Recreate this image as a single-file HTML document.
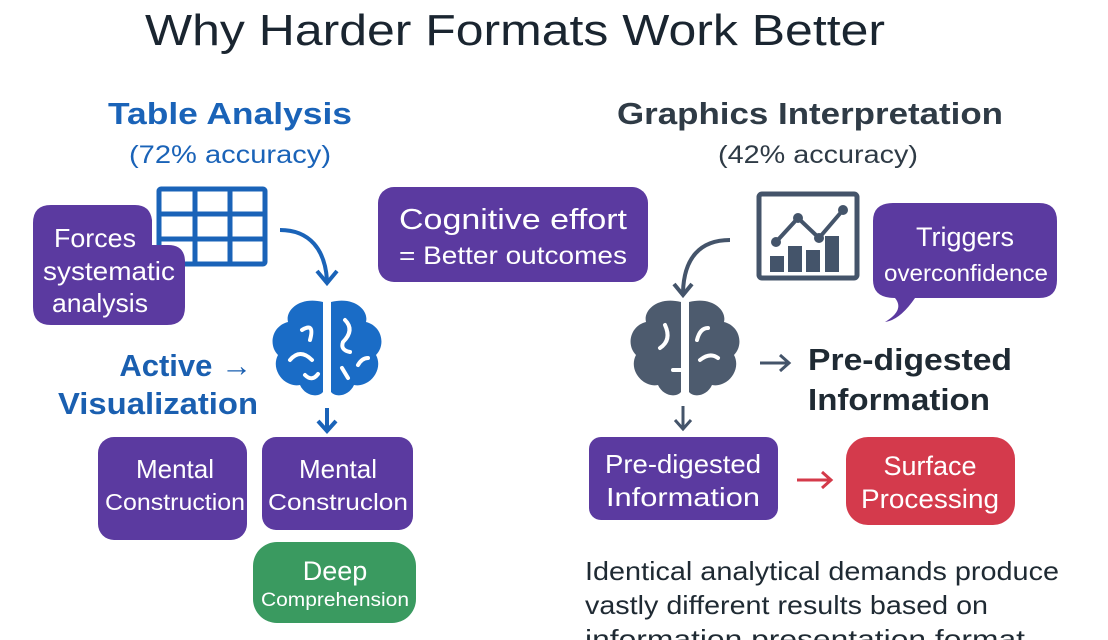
<!DOCTYPE html>
<html><head><meta charset="utf-8"><style>
html,body{margin:0;padding:0;background:#fff;}
svg{display:block;font-family:"Liberation Sans",sans-serif;}
</style></head><body>
<svg width="1108" height="640" viewBox="0 0 1108 640" xmlns="http://www.w3.org/2000/svg">
<text x="515" y="45" text-anchor="middle" font-size="44" fill="#1a2530" textLength="740" lengthAdjust="spacingAndGlyphs">Why Harder Formats Work Better</text>

<text x="230" y="124" text-anchor="middle" font-size="31" font-weight="bold" fill="#1a63b8" textLength="244" lengthAdjust="spacingAndGlyphs">Table Analysis</text>
<text x="230" y="163" text-anchor="middle" font-size="25" fill="#1a63b8" textLength="202" lengthAdjust="spacingAndGlyphs">(72% accuracy)</text>
<text x="810" y="124" text-anchor="middle" font-size="31" font-weight="bold" fill="#2f3b46" textLength="386" lengthAdjust="spacingAndGlyphs">Graphics Interpretation</text>
<text x="818" y="163" text-anchor="middle" font-size="25" fill="#2f3b46" textLength="200" lengthAdjust="spacingAndGlyphs">(42% accuracy)</text>

<g fill="none" stroke="#1a63b8" stroke-width="5">
<rect x="159" y="189" width="106" height="75" rx="2"/>
<line x1="159" y1="214" x2="265" y2="214"/><line x1="159" y1="239" x2="265" y2="239"/>
<line x1="195" y1="189" x2="195" y2="264"/><line x1="230" y1="189" x2="230" y2="264"/>
</g>
<path d="M51,205 H135 Q150,205 152,220 V245 H168 Q185,245 185,262 V307 Q185,325 167,325 H51 Q33,325 33,307 V223 Q33,205 51,205 Z" fill="#5b3aa0"/>
<g fill="#fff" font-size="26" text-anchor="middle">
<text x="95" y="247" textLength="82" lengthAdjust="spacingAndGlyphs">Forces</text>
<text x="109" y="280" textLength="132" lengthAdjust="spacingAndGlyphs">systematic</text>
<text x="100" y="312" textLength="96" lengthAdjust="spacingAndGlyphs">analysis</text>
</g>
<path d="M280,230 C310,230 325,250 327,280" fill="none" stroke="#1a63b8" stroke-width="4"/>
<path d="M317,271 L327,283 L337,271" fill="none" stroke="#1a63b8" stroke-width="4"/>

<g fill="#1a6cc6">
<path d="M323,302 C300,296 285,310 288,322 C272,326 268,345 278,355 C270,370 285,388 300,385 C305,396 318,398 323,392 Z"/>
<path d="M331,302 C354,296 369,310 366,322 C382,326 386,345 376,355 C384,370 369,388 354,385 C349,396 336,398 331,392 Z"/>
</g>
<g fill="none" stroke="#fff" stroke-width="4" stroke-linecap="round">
<path d="M302,330 Q315,322 310,340"/><path d="M290,360 Q300,348 312,360"/><path d="M305,375 Q312,382 318,374"/>
<path d="M345,320 Q355,330 343,342 Q340,350 350,352"/><path d="M358,365 Q362,358 368,358"/><path d="M342,368 L348,378"/>
</g>

<text x="252" y="376" text-anchor="end" font-size="31" font-weight="bold" fill="#1a5fb0">Active →</text>
<text x="258" y="414" text-anchor="end" font-size="31" font-weight="bold" fill="#1a5fb0" textLength="200" lengthAdjust="spacingAndGlyphs">Visualization</text>
<path d="M327,408 V430 M318,421 L327,431 L336,421" fill="none" stroke="#1a63b8" stroke-width="4"/>

<rect x="98" y="437" width="149" height="103" rx="16" fill="#5b3aa0"/>
<rect x="262" y="437" width="151" height="93" rx="14" fill="#5b3aa0"/>
<g fill="#fff" text-anchor="middle">
<text x="175" y="478" font-size="26">Mental</text>
<text x="175" y="510" font-size="23" textLength="140" lengthAdjust="spacingAndGlyphs">Construction</text>
<text x="338" y="478" font-size="26">Mental</text>
<text x="338" y="510" font-size="23" textLength="140" lengthAdjust="spacingAndGlyphs">Construclon</text>
</g>
<rect x="253" y="542" width="163" height="81" rx="24" fill="#3a9a60"/>
<text x="335" y="580" text-anchor="middle" font-size="27" fill="#fff">Deep</text>
<text x="335" y="606" text-anchor="middle" font-size="19" fill="#fff" textLength="148" lengthAdjust="spacingAndGlyphs">Comprehension</text>

<rect x="378" y="187" width="270" height="95" rx="16" fill="#5b3aa0"/>
<text x="513" y="229" text-anchor="middle" font-size="29" fill="#fff" textLength="228" lengthAdjust="spacingAndGlyphs">Cognitive effort</text>
<text x="513" y="264" text-anchor="middle" font-size="25" fill="#fff" textLength="228" lengthAdjust="spacingAndGlyphs">= Better outcomes</text>

<rect x="759" y="194" width="98" height="84" rx="3" fill="none" stroke="#44546a" stroke-width="5"/>
<g fill="#44546a">
<rect x="770" y="256" width="14" height="16"/><rect x="788" y="246" width="14" height="26"/><rect x="806" y="250" width="14" height="22"/><rect x="825" y="236" width="14" height="36"/>
</g>
<polyline points="776,242 798,218 819,238 843,210" fill="none" stroke="#44546a" stroke-width="4"/>
<g fill="#44546a"><circle cx="776" cy="242" r="5"/><circle cx="798" cy="218" r="5"/><circle cx="819" cy="238" r="5"/><circle cx="843" cy="210" r="5"/></g>

<path d="M893,203 H1039 Q1057,203 1057,221 V280 Q1057,298 1039,298 H915 Q900,320 885,322 Q905,310 895,298 Q873,298 873,280 V221 Q873,203 893,203 Z" fill="#5b3aa0"/>
<text x="965" y="246" text-anchor="middle" font-size="27" fill="#fff">Triggers</text>
<text x="966" y="281" text-anchor="middle" font-size="23" fill="#fff" textLength="164" lengthAdjust="spacingAndGlyphs">overconfidence</text>

<path d="M730,240 C700,240 684,258 683,292" fill="none" stroke="#44546a" stroke-width="4"/>
<path d="M674,284 L683,295 L692,284" fill="none" stroke="#44546a" stroke-width="4"/>

<g fill="#4d5b6e">
<path d="M681,302 C658,296 643,310 646,322 C630,326 626,345 636,355 C628,370 643,388 658,385 C663,396 676,398 681,392 Z"/>
<path d="M689,302 C712,296 727,310 724,322 C740,326 744,345 734,355 C742,370 727,388 712,385 C707,396 694,398 689,392 Z"/>
</g>
<g fill="none" stroke="#fff" stroke-width="4" stroke-linecap="round">
<path d="M665,325 Q672,340 660,348"/><path d="M673,370 L683,370"/><path d="M697,340 Q700,328 708,328"/><path d="M700,360 Q710,352 718,358"/>
</g>

<path d="M760,363 H788 M780,355 L789,363 L780,371" fill="none" stroke="#44546a" stroke-width="3"/>
<text x="808" y="370" font-size="31" font-weight="bold" fill="#1f2a33" textLength="204" lengthAdjust="spacingAndGlyphs">Pre-digested</text>
<text x="808" y="410" font-size="31" font-weight="bold" fill="#1f2a33" textLength="182" lengthAdjust="spacingAndGlyphs">Information</text>

<path d="M683,406 V428 M675,420 L683,429 L691,420" fill="none" stroke="#44546a" stroke-width="3"/>

<rect x="589" y="437" width="189" height="83" rx="12" fill="#5b3aa0"/>
<text x="683" y="473" text-anchor="middle" font-size="26" fill="#fff" textLength="156" lengthAdjust="spacingAndGlyphs">Pre-digested</text>
<text x="683" y="506" text-anchor="middle" font-size="26" fill="#fff" textLength="154" lengthAdjust="spacingAndGlyphs">Information</text>

<path d="M797,480 H830 M822,472 L831,480 L822,488" fill="none" stroke="#d43a4a" stroke-width="3"/>

<rect x="846" y="437" width="169" height="88" rx="22" fill="#d43a4c"/>
<text x="930" y="475" text-anchor="middle" font-size="27" fill="#fff">Surface</text>
<text x="930" y="508" text-anchor="middle" font-size="27" fill="#fff" textLength="138" lengthAdjust="spacingAndGlyphs">Processing</text>

<g font-size="26" fill="#1f2a33">
<text x="585" y="580" textLength="474" lengthAdjust="spacingAndGlyphs">Identical analytical demands produce</text>
<text x="585" y="614" textLength="403" lengthAdjust="spacingAndGlyphs">vastly different results based on</text>
<text x="585" y="648" textLength="440" lengthAdjust="spacingAndGlyphs">information presentation format</text>
</g>
</svg>
</body></html>
